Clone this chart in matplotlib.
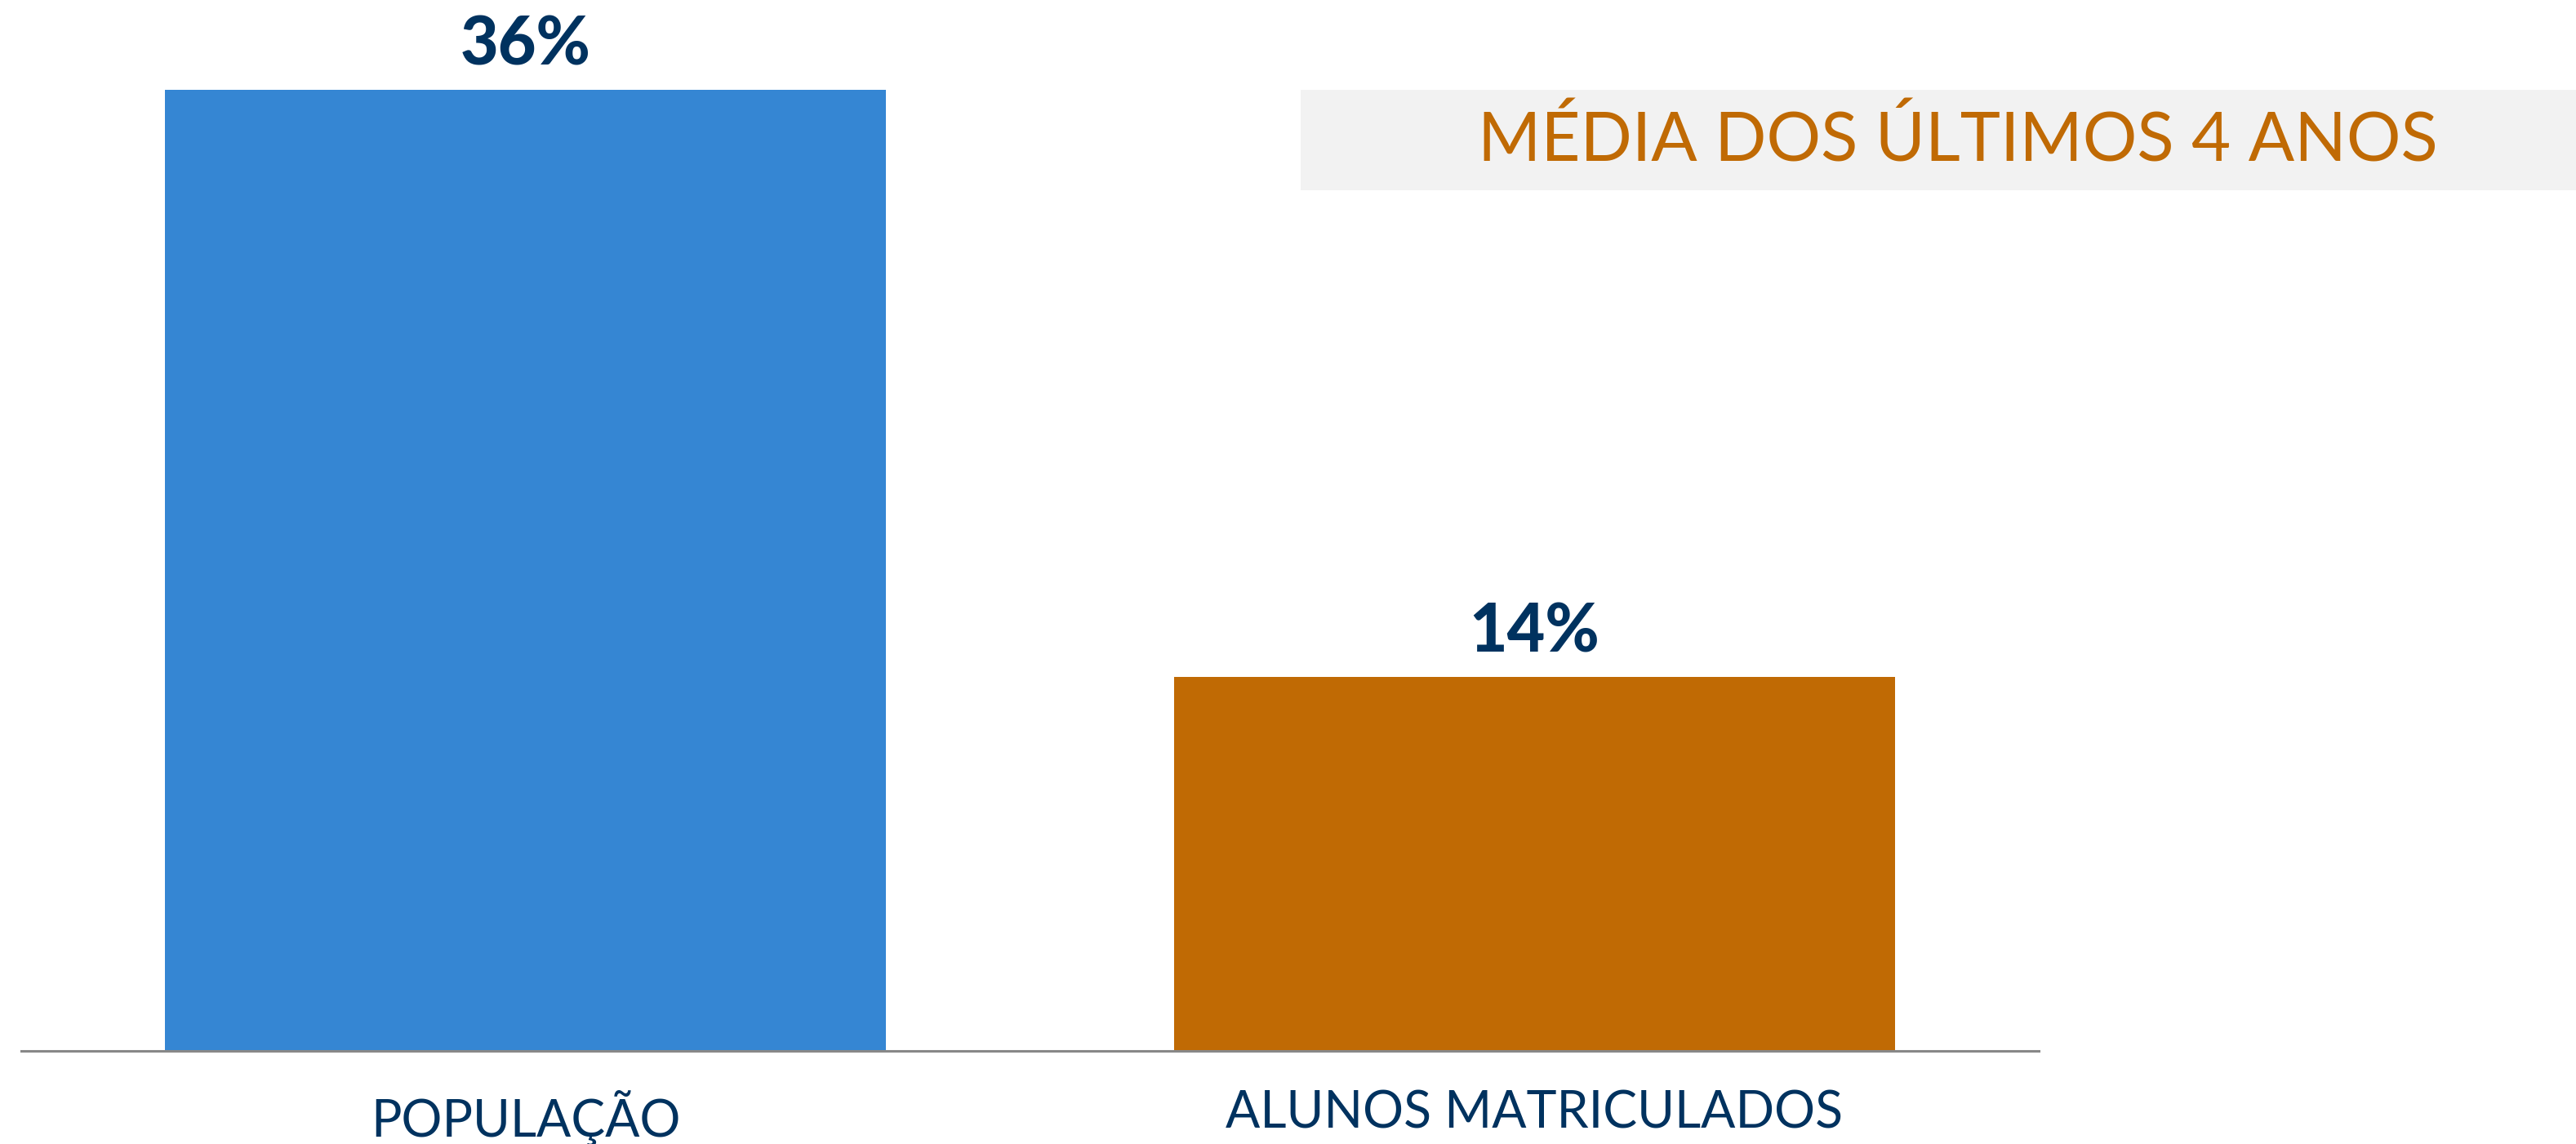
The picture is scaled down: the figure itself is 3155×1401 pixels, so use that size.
import matplotlib
matplotlib.use("Agg")
import matplotlib.pyplot as plt
from matplotlib.patches import Rectangle

categorias = ["POPULAÇÃO", "ALUNOS MATRICULADOS"]
valores = [36, 14]
rotulos = ["36%", "14%"]
cores = ["#3586D3", "#C06A04"]
titulo_caixa = "MÉDIA DOS ÚLTIMOS 4 ANOS"

azul_escuro = "#00325F"

W, H = 3155, 1401
fig = plt.figure(figsize=(W / 100, H / 100), dpi=100)
fig.patch.set_facecolor("white")

# eixo: baseline em y=1287, topo (36) em y=110
x0, x1 = 26, 2497
y_base, y_top = 1287, 110
ax = fig.add_axes([x0 / W, 1 - y_base / H, (x1 - x0) / W, (y_base - y_top) / H])

pos = [0, 1]
ax.bar(pos, valores, width=0.715, color=cores)
ax.set_xlim(-0.5, 1.5)
ax.set_ylim(0, 36)

for p, v, r in zip(pos, valores, rotulos):
    ax.text(p, v + 0.93, r, ha="center", va="baseline", fontsize=58,
            fontweight="black", family="Lato", color=azul_escuro)

ax.set_xticks(pos)
ax.set_xticklabels(categorias, fontsize=45, family="Lato", color=azul_escuro)
ax.tick_params(axis="x", length=0, pad=34)
ax.set_yticks([])
for s in ["top", "right", "left"]:
    ax.spines[s].set_visible(False)
ax.spines["bottom"].set_color("#888888")
ax.spines["bottom"].set_linewidth(2.2)

# caixa cinza com o texto
caixa = Rectangle((1593 / W, 1 - 233 / H), (W - 1593) / W, 123 / H,
                  transform=fig.transFigure, facecolor="#F2F2F2",
                  edgecolor="none", zorder=0)
fig.patches.append(caixa)
fig.text(2398 / W, 1 - 174 / H, titulo_caixa, ha="center", va="center",
         fontsize=60, family="Lato", color="#C06A04")

fig.savefig("out.png", dpi=100, facecolor="white")
